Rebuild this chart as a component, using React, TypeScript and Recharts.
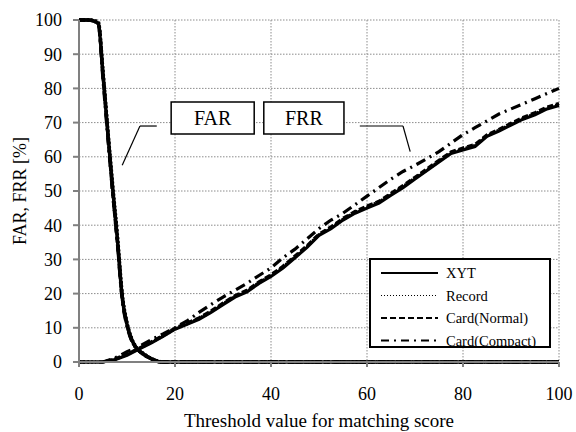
import {
  LineChart,
  Line,
  XAxis,
  YAxis,
  CartesianGrid,
  ReferenceArea,
  ReferenceLine,
} from "recharts";

// FAR curves (threshold -> %)
const farThreshold = [0, 2, 4, 5, 6, 7, 8, 9, 10, 11, 12, 13, 14, 15, 16, 17, 20, 40, 60, 80, 100];
const farXyt = [100, 100, 99, 84, 67, 51, 36, 19, 11, 6.5, 4, 2.8, 1.8, 1, 0.4, 0, 0, 0, 0, 0, 0];
const farRecord = [100, 100, 99.5, 85, 68, 52, 37, 20, 11.5, 6.8, 4.2, 2.9, 1.9, 1.1, 0.5, 0.1, 0, 0, 0, 0, 0];
const farNormal = [100, 100, 99, 84, 67, 50, 35, 19, 11, 6.3, 4, 2.7, 1.7, 1, 0.4, 0, 0, 0, 0, 0, 0];
const farCompact = [100, 100, 99, 83, 66, 50, 35, 18.5, 10.5, 6.2, 3.9, 2.7, 1.7, 0.9, 0.4, 0, 0, 0, 0, 0, 0];

// FRR curves
const frrThreshold = [
  0, 5, 7.5, 10, 12.5, 15, 17.5, 20, 22.5, 25, 27.5, 30, 32.5, 35, 37.5, 40, 42.5, 45, 47.5, 50,
  52.5, 55, 57.5, 60, 62.5, 65, 67.5, 70, 72.5, 75, 77.5, 80, 82.5, 85, 87.5, 90, 92.5, 95, 97.5, 100,
];
const frrXyt = [
  0, 0, 0.7, 2, 3.8, 5.5, 7.5, 9.6, 11, 12.5, 14.5, 16.8, 19, 20.5, 23, 25, 27.5, 30.5, 33.5, 37,
  39, 41.5, 43.5, 45, 46.5, 48.8, 51, 53.5, 56, 58.5, 61, 62, 63, 66, 67.5, 69.3, 71, 72.3, 74, 75,
];
const frrRecord = [
  0, 0, 0.8, 2.2, 3.9, 5.7, 7.6, 9.7, 11.2, 12.7, 14.7, 17, 19.2, 20.8, 23.2, 25.3, 27.8, 30.7, 33.8, 37.2,
  39.3, 41.7, 43.8, 45.3, 46.8, 49, 51.3, 53.8, 56.2, 58.7, 61.2, 62.3, 63.3, 66.2, 67.8, 69.5, 71.2, 72.6, 74.2, 75.3,
];
const frrNormal = [
  0, 0, 0.9, 2.3, 4, 5.8, 7.8, 9.9, 11.4, 12.9, 14.9, 17.2, 19.4, 21, 23.4, 25.5, 28, 31, 34, 37.4,
  39.5, 42, 44, 45.6, 47, 49.3, 51.6, 54, 56.5, 59, 61.4, 62.6, 63.6, 66.4, 68, 69.8, 71.5, 72.9, 74.5, 75.6,
];
const frrCompact = [
  0, 0, 1.2, 3, 4.5, 6.5, 8.2, 10, 12, 14.5, 16.8, 19, 21, 23, 25.3, 27.5, 30.5, 33, 36, 39,
  41.5, 43.5, 46, 48.5, 51, 53.5, 55.7, 57.5, 59.5, 61.5, 64, 66.5, 68.5, 70.5, 72.5, 74, 75.5, 77, 78.5, 80,
];

const xTicks = [0, 20, 40, 60, 80, 100];
const yTicks = [0, 10, 20, 30, 40, 50, 60, 70, 80, 90, 100];

const farData = farThreshold.map((t, i) => ({
  t,
  xyt: farXyt[i],
  record: farRecord[i],
  normal: farNormal[i],
  compact: farCompact[i],
}));
const frrData = frrThreshold.map((t, i) => ({
  t,
  xyt: frrXyt[i],
  record: frrRecord[i],
  normal: frrNormal[i],
  compact: frrCompact[i],
}));

const FONT = "'Liberation Serif', 'Times New Roman', serif";
const tick = { fontSize: 18, fill: "#000", fontFamily: FONT };

const styles = [
  { key: "xyt", name: "XYT", dash: undefined },
  { key: "record", name: "Record", dash: "2 2" },
  { key: "normal", name: "Card(Normal)", dash: "6 3" },
  { key: "compact", name: "Card(Compact)", dash: "10 5 2 5" },
];

const legendSwatch = ["", "1 2", "6 3", "8 5 2 5"];

function LegendBox() {
  return (
    <svg width={182} height={90} style={{ position: "absolute", left: 369, top: 258 }}>
      <rect x={1} y={1} width={180} height={88} fill="#fff" stroke="#000" strokeWidth={2} />
      {styles.map((s, i) => {
        const y = 15 + i * 22.5;
        return (
          <g key={s.key}>
            <line
              x1={12}
              x2={69}
              y1={y}
              y2={y}
              stroke="#000"
              strokeWidth={i === 1 ? 1 : 2}
              strokeDasharray={legendSwatch[i] || undefined}
            />
            <text x={77} y={y + 5} fontSize={14.5} fill="#000" fontFamily={FONT}>
              {s.name}
            </text>
          </g>
        );
      })}
    </svg>
  );
}

export default function App() {
  return (
    <div style={{ position: "fixed", left: 0, top: 0, width: 576, height: 432, background: "#fff" }}>
      <LineChart width={576} height={432} margin={{ top: 20, right: 17, bottom: 5, left: 0 }}>
        <CartesianGrid stroke="#8c8c8c" strokeDasharray="1.5 1.5" strokeWidth={1} />
        <XAxis
          dataKey="t"
          type="number"
          domain={[0, 100]}
          ticks={xTicks}
          allowDuplicatedCategory={false}
          height={65}
          tick={tick}
          tickSize={5}
          tickMargin={20}
          stroke="#808080"
          strokeWidth={2}
          label={{
            value: "Threshold value for matching score",
            position: "insideBottom",
            offset: 0,
            fontSize: 19,
            fontFamily: FONT,
            fill: "#000",
          }}
        />
        <YAxis
          type="number"
          domain={[0, 100]}
          ticks={yTicks}
          width={79}
          tick={tick}
          tickSize={6}
          tickMargin={11}
          stroke="#808080"
          strokeWidth={2}
          label={{
            value: "FAR, FRR [%]",
            angle: -90,
            position: "insideLeft",
            offset: 20,
            fontSize: 18,
            fontFamily: FONT,
            fill: "#000",
            style: { textAnchor: "middle" },
          }}
        />

        {/* callout boxes */}
        <ReferenceArea
          x1={19.2}
          x2={36.5}
          y1={66.7}
          y2={76}
          fill="#fff"
          fillOpacity={1}
          stroke="#000"
          strokeWidth={1.5}
          label={{ value: "FAR", position: "center", fontSize: 20, fill: "#000", fontFamily: FONT }}
        />
        <ReferenceArea
          x1={38.5}
          x2={55.2}
          y1={66.7}
          y2={76}
          fill="#fff"
          fillOpacity={1}
          stroke="#000"
          strokeWidth={1.5}
          label={{ value: "FRR", position: "center", fontSize: 20, fill: "#000", fontFamily: FONT }}
        />
        <ReferenceLine segment={[{ x: 16.2, y: 69 }, { x: 12.7, y: 69 }]} stroke="#000" strokeWidth={1.2} />
        <ReferenceLine segment={[{ x: 12.7, y: 69 }, { x: 9, y: 57.5 }]} stroke="#000" strokeWidth={1.2} />
        <ReferenceLine segment={[{ x: 58.5, y: 69 }, { x: 67.5, y: 69 }]} stroke="#000" strokeWidth={1.2} />
        <ReferenceLine segment={[{ x: 67.5, y: 69 }, { x: 69, y: 61.5 }]} stroke="#000" strokeWidth={1.2} />

        {styles.map((s) => (
          <Line
            key={"far-" + s.key}
            data={farData}
            dataKey={s.key}
            type="monotone"
            stroke="#000"
            strokeWidth={3.5}
            strokeDasharray={s.dash}
            dot={false}
            activeDot={false}
            legendType="none"
            isAnimationActive={false}
          />
        ))}
        {styles.map((s) => (
          <Line
            key={"frr-" + s.key}
            data={frrData}
            dataKey={s.key}
            type="linear"
            stroke="#000"
            strokeWidth={3.2}
            strokeDasharray={s.dash}
            dot={false}
            activeDot={false}
            legendType="none"
            isAnimationActive={false}
          />
        ))}
      </LineChart>
      <LegendBox />
    </div>
  );
}
